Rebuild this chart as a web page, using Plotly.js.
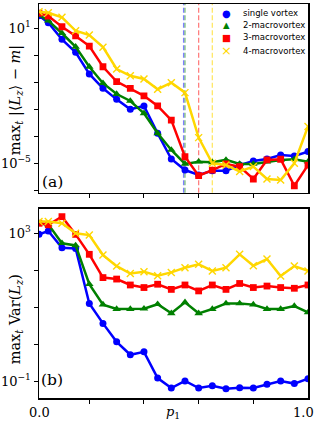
<!DOCTYPE html>
<html><head><meta charset="utf-8">
<script src="https://cdn.plot.ly/plotly-3.0.1.min.js"></script>
<style>html,body{margin:0;padding:0;background:#fff}#chart{width:317px;height:422px}</style>
</head><body><div id="chart"></div>
<script>
// ---- data ----
const p1 = [0.016,0.05,0.1,0.15,0.2,0.25,0.3,0.35,0.4,0.45,0.5,0.55,0.6,0.65,0.7,0.75,0.8,0.85,0.9,0.95,1.0];
const seriesNames = ['single vortex','2-macrovortex','3-macrovortex','4-macrovortex'];

// panel (a): max_t |<Lz> - m|
const devSingle = [36.3,17.8,3.24,0.851,0.0933,0.0214,0.00692,0.00251,0.00355,2.14e-4,1.55e-5,5.0e-6,3.0e-6,4.7e-6,4.7e-6,8.3e-6,1.26e-5,1.55e-5,2.34e-5,2.1e-5,3.3e-5];
const dev2 = [38.9,21.9,6.03,1.51,0.195,0.0363,0.0120,0.00589,0.00166,2.14e-4,3.89e-5,9.3e-6,1.17e-5,1.1e-5,1.41e-5,9.3e-6,9.3e-6,1.17e-5,1.41e-5,1.51e-5,1.17e-5];
const dev3 = [46.8,35.0,11.7,4.57,1.62,0.195,0.0427,0.0214,0.0100,0.00355,8.3e-4,1.95e-5,2.8e-6,5.0e-6,9.3e-6,7.1e-6,2.0e-6,1.41e-5,1.51e-5,1.0e-6,8.3e-6];
const dev4 = [55.0,49.0,30.9,7.76,5.01,1.45,0.155,0.0776,0.0562,0.0195,0.038,0.0138,1.38e-4,1.0e-5,8.3e-6,4.3e-6,7.1e-6,2.0e-6,1.8e-6,1.0e-5,4.3e-4];

// panel (b): max_t Var(Lz)
const varSingle = [933,1148,407,389,12.6,3.63,1.15,0.513,0.617,0.120,0.0646,0.100,0.0646,0.0741,0.0617,0.0661,0.0646,0.0813,0.100,0.0851,0.115];
const var2 = [1862,1738,537,468,41.7,11.7,8.9,8.9,9.1,12.0,6.8,13.5,6.8,8.9,12.6,12.6,11.7,8.9,8.9,10.7,7.2];
const var3 = [1862,1698,2818,933,269,63.1,57.5,39.8,33.9,41.7,30.2,39.8,27.5,39.8,30.2,43.7,33.9,37.2,33.9,32.4,39.8];
const var4 = [2089,2089,1862,1000,891,257,129,81.3,91.2,70.8,87.1,117,145,95.5,117,269,132,200,69.2,129,95.5];

// thresholds (vertical dashed lines, panel a)
const thresholds = [0.545, 0.55, 0.6, 0.65];

// tick labels
const topTickVals = [1e1, 6.31e-1, 3.98e-2, 2.51e-3, 1.58e-4, 1e-5, 6.31e-7];
const topTickText = ['10<sup>1</sup>','','','','','10<sup>\u22125</sup>',''];
const botTickVals = [1e3, 1e2, 1e1, 1e0, 1e-1];
const botTickText = ['10<sup>3</sup>','','','','10<sup>\u22121</sup>'];
const xTickVals = [0.2, 0.4, 0.6, 0.8];
const xLabels = ['0.0', '<i>p</i><sub>1</sub>', '1.0'];
const xLabelPos = [0.016, 0.507, 1.0];

// ---- styles ----
const colors = ['#0000ff','#008000','#ff0000','#ffd700'];
const thrColors = ['rgba(0,0,255,0.5)','rgba(0,128,0,0.5)','rgba(255,0,0,0.5)','rgba(255,215,0,0.6)'];
const symbols = ['circle','triangle-up','square','x-thin'];
const msize = [7, 7.5, 6.8, 7];
const legendGlyphs = ['\u25CF','\u25B2','\u25A0','\u00D7'];
const legendGlyphSize = [10, 8.5, 9.5, 13];
const xLabelAnchor = ['center','center','right'];
const xLabelShift = [0, 0, 8];

const devSeries = [devSingle, dev2, dev3, dev4];
const varSeries = [varSingle, var2, var3, var4];

const traces = [];
function addTraces(series, xa, ya) {
  series.forEach((ys, i) => {
    traces.push({
      x: p1, y: ys, xaxis: xa, yaxis: ya, type: 'scatter', mode: 'lines+markers',
      name: seriesNames[i], showlegend: false,
      line: {color: colors[i], width: 2.5},
      marker: {symbol: symbols[i], size: msize[i], color: colors[i],
               line: {color: colors[i], width: symbols[i] === 'x-thin' ? 1.4 : 0}}
    });
  });
}
addTraces(devSeries, 'x', 'y');
addTraces(varSeries, 'x2', 'y2');

const serif = 'DejaVu Serif, serif';
const axBase = {showline: true, mirror: true, linecolor: '#000', linewidth: 1.5,
  ticks: 'outside', ticklen: 4, tickwidth: 1, tickcolor: '#000',
  showgrid: false, zeroline: false, tickfont: {family: serif, size: 13, color: '#000'}};

const shapes = thresholds.map((t, i) => ({
  type: 'line', xref: 'x', yref: 'y domain', x0: t, x1: t, y0: 0, y1: 1,
  line: {color: thrColors[i], width: 1.3, dash: '5px,2.5px'}, layer: 'below'
}));

const annotations = [];
// x labels under bottom panel
xLabels.forEach((t, i) => annotations.push({
  text: t, xref: 'x2', yref: 'paper', x: xLabelPos[i], y: -0.037,
  xanchor: xLabelAnchor[i], xshift: xLabelShift[i], yanchor: 'middle', showarrow: false,
  font: {family: serif, size: 13, color: '#000'}
}));
// panel labels
annotations.push({text: '(a)', xref: 'paper', yref: 'paper', x: 0.004, y: 0.549, xanchor: 'left', yanchor: 'middle',
  showarrow: false, font: {family: serif, size: 15.5, color: '#000'}});
annotations.push({text: '(b)', xref: 'paper', yref: 'paper', x: 0.0, y: 0.046, xanchor: 'left', yanchor: 'middle',
  showarrow: false, font: {family: serif, size: 15.5, color: '#000'}});
// y titles
annotations.push({text: 'max<sub><i>t</i></sub> |\u27E8<i>L<sub>z</sub></i>\u27E9 \u2212 <i>m</i>|', xref: 'paper', yref: 'paper',
  x: -0.085, y: 0.756, xanchor: 'center', yanchor: 'middle', textangle: -90, showarrow: false,
  font: {family: serif, size: 14.5, color: '#000'}});
annotations.push({text: 'max<sub><i>t</i></sub> Var(<i>L<sub>z</sub></i>)', xref: 'paper', yref: 'paper',
  x: -0.085, y: 0.2, xanchor: 'center', yanchor: 'middle', textangle: -90, showarrow: false,
  font: {family: serif, size: 14.5, color: '#000'}});
// legend
const legRowY = [0.9764, 0.9467, 0.9155, 0.8815];
seriesNames.forEach((n, i) => {
  annotations.push({text: legendGlyphs[i], xref: 'paper', yref: 'paper', x: 0.697, y: legRowY[i],
    xanchor: 'center', yanchor: 'middle', showarrow: false,
    font: {family: 'DejaVu Sans', size: legendGlyphSize[i], color: colors[i]}});
  annotations.push({text: n, xref: 'paper', yref: 'paper', x: 0.7527, y: legRowY[i],
    xanchor: 'left', yanchor: 'middle', showarrow: false,
    font: {family: 'DejaVu Sans', size: 8.5, color: '#000'}});
});

const layout = {
  width: 317, height: 422,
  margin: {l: 39, r: 9, t: 4, b: 24, pad: 0},
  paper_bgcolor: '#fff', plot_bgcolor: '#fff',
  showlegend: false,
  xaxis: Object.assign({}, axBase, {anchor: 'y', range: [0.016, 1.0], tickvals: xTickVals, showticklabels: false}),
  yaxis: Object.assign({}, axBase, {anchor: 'x', domain: [0.521, 1], type: 'log', range: [-6.31, 2.08],
    tickvals: topTickVals, ticktext: topTickText}),
  xaxis2: Object.assign({}, axBase, {anchor: 'y2', range: [0.016, 1.0], tickvals: xTickVals, showticklabels: false}),
  yaxis2: Object.assign({}, axBase, {anchor: 'x2', domain: [0, 0.48], type: 'log', range: [-1.46, 3.66],
    tickvals: botTickVals, ticktext: botTickText}),
  shapes: shapes,
  annotations: annotations
};

Plotly.newPlot('chart', traces, layout, {displayModeBar: false, staticPlot: true});
</script>
</body></html>
